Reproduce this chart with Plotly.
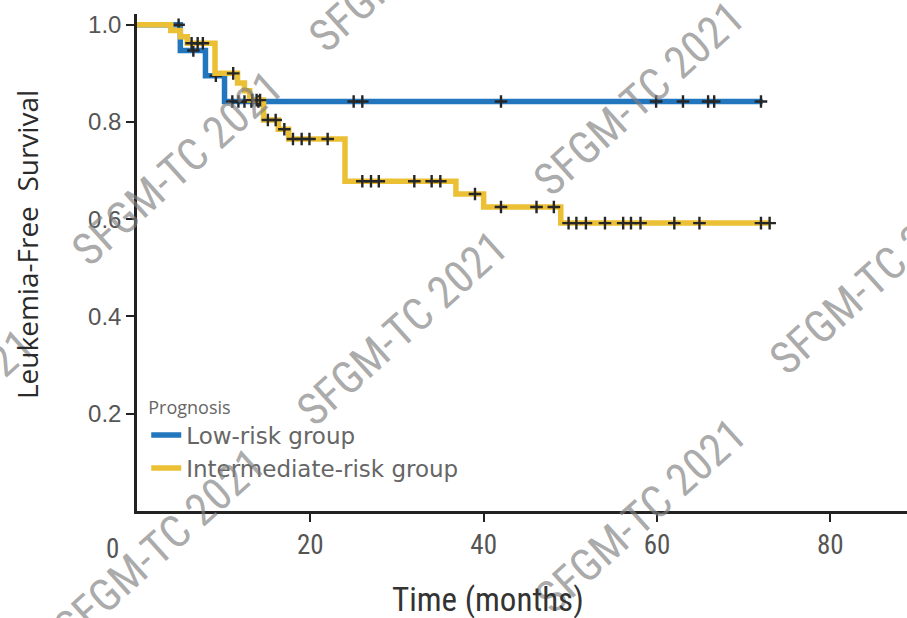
import plotly.graph_objects as go

# ---- Kaplan-Meier estimates: step times (months) and survival after each step ----
low_times = [0, 5.0, 7.9, 10.1, 72.2]
low_surv = [1.0, 0.947, 0.895, 0.842, 0.842]
low_censored = [4.8, 6.5, 9.1, 11.0, 11.7, 12.4, 13.2, 14.0, 25.0, 26.0,
                42.0, 59.9, 63.0, 65.9, 66.6, 72.0]

int_times = [0, 3.9, 5.0, 5.8, 9.0, 11.6, 12.4, 13.0, 14.6, 16.3, 17.5,
             24.0, 36.8, 40.0, 48.9, 73.0]
int_surv = [1.0, 0.988, 0.975, 0.962, 0.90, 0.880, 0.864, 0.845, 0.804,
            0.785, 0.765, 0.678, 0.652, 0.625, 0.592, 0.592]
int_censored = [6.3, 7.0, 7.6, 11.1, 13.3, 13.8, 14.2, 15.1, 16.0, 17.0,
                18.0, 19.0, 19.9, 22.0, 26.0, 27.0, 27.9, 32.0, 34.0, 35.0,
                39.0, 42.0, 46.1, 48.1, 49.8, 50.7, 51.8, 54.0, 56.1, 57.0,
                58.1, 62.0, 64.9, 72.0, 73.0]

group_names = ["Low-risk group", "Intermediate-risk group"]
group_colors = ["#2276bd", "#ebc035"]

x_ticks = [20, 40, 60, 80]
y_ticks = [0.2, 0.4, 0.6, 0.8, 1.0]
y_tick_text = ["0.2", "0.4", "0.6", "0.8", "1.0"]

narrow = "Liberation Sans Narrow, Arial Narrow, Roboto Condensed, sans-serif"


def step_value(times, surv, t):
    """Survival level of a right-continuous step curve at time t."""
    val = surv[0]
    for ti, si in zip(times, surv):
        if ti <= t:
            val = si
    return val


fig = go.Figure()

for name, color, times, surv, cens in [
    (group_names[0], group_colors[0], low_times, low_surv, low_censored),
    (group_names[1], group_colors[1], int_times, int_surv, int_censored),
]:
    fig.add_trace(go.Scatter(
        x=times, y=surv, mode="lines", name=name,
        line=dict(color=color, width=5.5, shape="hv"),
        legendgroup=name,
    ))
    fig.add_trace(go.Scatter(
        x=cens, y=[step_value(times, surv, t) for t in cens],
        mode="markers", showlegend=False, legendgroup=name,
        marker=dict(symbol="cross-thin", size=9,
                    line=dict(color="#262626", width=2.4)),
    ))

# Watermark text repeated across the page
WATERMARK = "SFGM-TC 2021"
watermark_spots = [(0.36, 1.12), (0.652, 0.83), (0.052, 0.69),
                   (0.344, 0.368), (0.958, 0.47), (0.655, -0.01),
                   (0.030, -0.07), (-0.27, 0.17)]
for wx, wy in watermark_spots:
    fig.add_annotation(
        x=wx, y=wy, xref="paper", yref="paper", text=WATERMARK,
        showarrow=False, textangle=-42, xanchor="center", yanchor="middle",
        font=dict(family=narrow, size=45, color="rgba(128,128,128,0.66)"),
    )

# Origin label sits just left of the corner
fig.add_annotation(
    x=0, y=0, xref="x", yref="y", text="0", showarrow=False,
    xanchor="center", yanchor="top", xshift=-25, yshift=-20,
    font=dict(family=narrow, size=27, color="#555555"),
)

# Axis titles
fig.add_annotation(
    x=0.456, y=-0.179, xref="paper", yref="paper", text="Time (months)",
    showarrow=False, xanchor="center", yanchor="middle",
    font=dict(family=narrow, size=33, color="#333333"),
)
fig.add_annotation(
    x=-0.143, y=0.537, xref="paper", yref="paper", text="Leukemia-Free  Survival",
    showarrow=False, textangle=-90, xanchor="center", yanchor="middle",
    font=dict(family="Open Sans, sans-serif", size=28, color="#2a2a2a"),
)

fig.update_layout(
    width=907, height=618,
    margin=dict(l=137, r=0, t=14, b=107),
    paper_bgcolor="white", plot_bgcolor="white",
    showlegend=True,
    legend=dict(
        x=0.012, y=0.243, xanchor="left", yanchor="top",
        bgcolor="rgba(0,0,0,0)",
        title=dict(text="Prognosis",
                   font=dict(family="Open Sans, sans-serif", size=18, color="#666666")),
        font=dict(family="DejaVu Sans, sans-serif", size=23, color="#666666"),
        itemwidth=30, tracegroupgap=0,
    ),
    xaxis=dict(
        range=[0, 88.85], tickvals=x_ticks, ticktext=[str(v) for v in x_ticks],
        showgrid=False, zeroline=False,
        showline=True, linecolor="#222222", linewidth=2.5,
        ticks="outside", ticklen=8, tickwidth=2, tickcolor="#222222",
        tickfont=dict(family=narrow, size=27, color="#555555"),
    ),
    yaxis=dict(
        range=[0, 1.022], tickvals=y_ticks, ticktext=y_tick_text,
        showgrid=False, zeroline=False,
        showline=True, linecolor="#222222", linewidth=2.5,
        ticks="outside", ticklen=8, tickwidth=2, tickcolor="#222222",
        tickfont=dict(family="Liberation Sans, Arial, sans-serif", size=24, color="#555555"),
    ),
)

fig.write_html("out.html")
